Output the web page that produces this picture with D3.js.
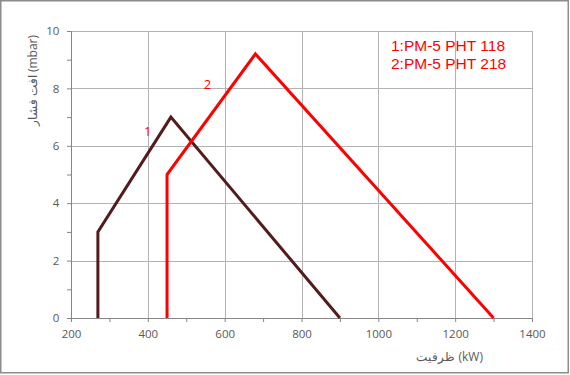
<!DOCTYPE html>
<html>
<head>
<meta charset="utf-8">
<script src="https://cdn.jsdelivr.net/npm/d3@7"></script>
<style>
  body { margin: 0; background: #fff; }
  svg { display: block; font-family: "Open Sans", "Liberation Sans", sans-serif; }
</style>
</head>
<body>
<svg id="chart" width="570" height="375"></svg>
<script>
// burner working fields (capacity kW, pressure mbar)
const series1 = [[270, 0], [270, 3], [460, 7], [900, 0]];
const series2 = [[450, 0], [450, 5], [680, 9.2], [1300, 0]];
const legendLines = ["1:PM-5 PHT 118", "2:PM-5 PHT 218"];
const curveLabels = [
  { text: "1", x: 400, y: 6.45 },
  { text: "2", x: 555, y: 8.1 }
];
const xTicks = [200, 400, 600, 800, 1000, 1200, 1400];
const yTicks = [0, 2, 4, 6, 8, 10];

const margin = { top: 31, right: 38, bottom: 57, left: 71 };
const width = 570 - margin.left - margin.right;
const height = 375 - margin.top - margin.bottom;

const svg = d3.select("#chart");

// outer frame
svg.append("rect")
  .attr("x", 0.75).attr("y", 0.75)
  .attr("width", 567.5).attr("height", 372)
  .attr("fill", "none")
  .attr("stroke", "#8c8c8c")
  .attr("stroke-width", 1.5);

const g = svg.append("g")
  .attr("transform", `translate(${margin.left}, ${margin.top})`);

const x = d3.scaleLinear().domain([200, 1400]).range([0, width]);
const y = d3.scaleLinear().domain([0, 10]).range([height, 0]);

// grid
g.append("g")
  .selectAll("line")
  .data(xTicks.slice(1))
  .join("line")
  .attr("x1", d => Math.round(x(d)) + 0.5)
  .attr("x2", d => Math.round(x(d)) + 0.5)
  .attr("y1", 0).attr("y2", height)
  .attr("stroke", "#b3b3b3");

g.append("g")
  .selectAll("line")
  .data(yTicks.slice(1))
  .join("line")
  .attr("y1", d => Math.round(y(d)) + 0.5)
  .attr("y2", d => Math.round(y(d)) + 0.5)
  .attr("x1", 0).attr("x2", width)
  .attr("stroke", "#b3b3b3");

// axes
const xAxis = g.append("g")
  .attr("transform", `translate(0, ${height})`)
  .call(d3.axisBottom(x).tickValues(d3.range(200, 1401, 100)).tickSize(4)
    .tickFormat(d => xTicks.includes(d) ? d : ""));
const yAxis = g.append("g")
  .call(d3.axisLeft(y).tickValues(d3.range(0, 11, 1)).tickSize(4)
    .tickFormat(d => yTicks.includes(d) ? d : ""));

[xAxis, yAxis].forEach(a => {
  a.select(".domain").attr("stroke", "#868686");
  a.selectAll(".tick line").attr("stroke", "#868686");
  a.selectAll(".tick text")
    .attr("fill", "#595959")
    .attr("font-size", 11.5)
    .attr("font-family", "Open Sans, sans-serif");
});
xAxis.selectAll(".tick text").attr("dy", "1.15em");
yAxis.selectAll(".tick text").attr("dx", "-0.4em");

// lines
const line = d3.line().x(d => x(d[0])).y(d => y(d[1]));
g.append("path")
  .datum(series1)
  .attr("d", line)
  .attr("fill", "none")
  .attr("stroke", "#531b1b")
  .attr("stroke-width", 3)
  .attr("stroke-linejoin", "miter");
g.append("path")
  .datum(series2)
  .attr("d", line)
  .attr("fill", "none")
  .attr("stroke", "#ff0000")
  .attr("stroke-width", 3)
  .attr("stroke-linejoin", "miter");

// curve numbers
g.selectAll(".clabel")
  .data(curveLabels)
  .join("text")
  .attr("x", d => x(d.x))
  .attr("y", d => y(d.y))
  .attr("text-anchor", "middle")
  .attr("dominant-baseline", "middle")
  .attr("fill", "#ff0000")
  .attr("font-size", 13)
  .text(d => d.text);

// legend text
svg.selectAll(".legend")
  .data(legendLines)
  .join("text")
  .attr("x", 391)
  .attr("y", (d, i) => 51 + i * 18)
  .attr("fill", "#ff0000")
  .attr("font-size", 15.5)
  .attr("font-family", "Liberation Sans, Arial, sans-serif")
  .text(d => d);

// axis titles
svg.append("text")
  .attr("x", 483)
  .attr("y", 361)
  .attr("text-anchor", "end")
  .attr("direction", "ltr")
  .attr("fill", "#595959")
  .attr("font-size", 12)
  .text("ظرفیت (kW)");

svg.append("text")
  .attr("transform", "translate(37, 35) rotate(-90)")
  .attr("text-anchor", "end")
  .attr("direction", "ltr")
  .attr("fill", "#595959")
  .attr("font-size", 12)
  .text("افت فشار (mbar)");
</script>
</body>
</html>
